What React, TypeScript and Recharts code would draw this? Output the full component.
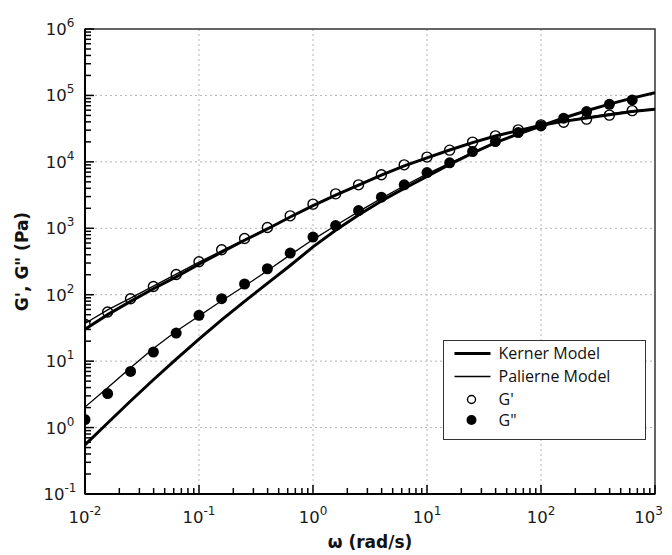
import {
  ScatterChart,
  Scatter,
  XAxis,
  YAxis,
  CartesianGrid,
  ReferenceArea,
  Legend,
} from "recharts";

// measured frequencies (rad/s), 5 points per decade
const omega = [
  0.01, 0.0158, 0.0251, 0.0398, 0.0631, 0.1, 0.158, 0.251, 0.398, 0.631, 1,
  1.58, 2.51, 3.98, 6.31, 10, 15.8, 25.1, 39.8, 63.1, 100, 158, 251, 398, 631,
];
// storage modulus G' (Pa), open circles
const gPrime = [
  36, 55, 87, 133, 202, 313, 475, 703, 1030, 1540, 2310, 3300, 4510, 6380,
  9020, 11800, 15000, 19800, 24600, 30300, 36000, 39500, 44000, 50500, 59000,
];
// loss modulus G'' (Pa), filled circles
const gDouble = [
  1.32, 3.25, 7.0, 13.7, 26.5, 48.9, 87, 145, 246, 424, 738, 1100, 1850, 2940,
  4510, 6900, 9660, 14300, 20200, 27600, 34800, 45400, 57100, 73600, 85500,
];

// model curves
const modelOmega = [
  0.01, 0.0158, 0.0251, 0.0398, 0.0631, 0.1, 0.158, 0.251, 0.398, 0.631, 1,
  1.58, 2.51, 3.98, 6.31, 10, 15.8, 25.1, 39.8, 63.1, 100, 158, 251, 398, 631,
  1000,
];
const kernerGp = [
  30.2, 50.1, 79.4, 123, 186, 288, 437, 661, 977, 1480, 2190, 3160, 4470, 6310,
  8710, 11500, 15100, 19500, 24500, 29500, 35500, 40700, 45700, 51300, 57500,
  61700,
];
const kernerGpp = [
  0.55, 1.17, 2.51, 5.25, 10.7, 21.4, 41.7, 79.4, 148, 275, 525, 933, 1580,
  2570, 3980, 6030, 9120, 13500, 19500, 26300, 34700, 45700, 58900, 74100,
  91200, 110000,
];
const palierneGp = [
  37, 59, 89, 135, 204, 309, 457, 676, 1000, 1480, 2190, 3160, 4470, 6310,
  8710, 11500, 15100, 19500, 24500, 29500, 35500, 41200, 46800, 52500, 58500,
  62500,
];
const palierneGpp = [
  2.04, 3.98, 7.94, 15.5, 28.2, 47.9, 81.3, 135, 229, 398, 676, 1100, 1780,
  2820, 4370, 6610, 9550, 13800, 19500, 26300, 34700, 45700, 58900, 74100,
  91200, 110000,
];

const xDecades = [0.01, 0.1, 1, 10, 100, 1000];
const yDecades = [0.1, 1, 10, 100, 1000, 10000, 100000, 1000000];
const minorSteps = [2, 3, 4, 5, 6, 7, 8, 9];

const withMinors = (decades: number[]) => {
  const out: number[] = [];
  decades.forEach((d, i) => {
    out.push(d);
    if (i < decades.length - 1) minorSteps.forEach((m) => out.push(d * m));
  });
  return out;
};
const xTicks = withMinors(xDecades);
const yTicks = withMinors(yDecades);

const toPoints = (xs: number[], ys: number[]) =>
  xs.map((x, i) => ({ x, y: ys[i] }));

const legendItems = [
  { label: "Kerner Model", kind: "thick" },
  { label: "Palierne Model", kind: "thin" },
  { label: "G'", kind: "open" },
  { label: 'G"', kind: "filled" },
];

const FONT = "DejaVu Sans, Verdana, sans-serif";

const exponentOf = (v: number) => Math.round(Math.log10(v));
const isDecade = (v: number) =>
  Math.abs(Math.log10(v) - Math.round(Math.log10(v))) < 1e-9;

const XTick = (props: any) => {
  const { x, y, payload } = props;
  const v = payload.value;
  const major = isDecade(v);
  // the last label is pulled inside so it is not cut by the page edge
  const last = v === xDecades[xDecades.length - 1];
  return (
    <g>
      <line
        x1={x}
        x2={x}
        y1={y}
        y2={y - (major ? 9 : 6)}
        stroke="#000"
        strokeWidth={1.5}
      />
      {major && (
        <text
          x={last ? x + 8 : x}
          y={y + 29}
          textAnchor={last ? "end" : "middle"}
          fontFamily={FONT}
          fontSize={16.5}
          fill="#1a1a1a"
        >
          10
          <tspan dy={-8} fontSize={12}>
            {exponentOf(v)}
          </tspan>
        </text>
      )}
    </g>
  );
};

const YTick = (props: any) => {
  const { x, y, payload } = props;
  const v = payload.value;
  const major = isDecade(v);
  return (
    <g>
      <line
        x1={x}
        x2={x + (major ? 9 : 6)}
        y1={y}
        y2={y}
        stroke="#000"
        strokeWidth={1.5}
      />
      {major && (
        <text
          x={x - 25}
          y={y + 6}
          textAnchor="middle"
          fontFamily={FONT}
          fontSize={16.5}
          fill="#1a1a1a"
        >
          10
          <tspan dy={-8} fontSize={12}>
            {exponentOf(v)}
          </tspan>
        </text>
      )}
    </g>
  );
};

const XTitle = (props: any) => {
  const vb = props.viewBox;
  return (
    <text
      x={vb.x + vb.width / 2}
      y={vb.y + 54}
      textAnchor="middle"
      fontFamily={FONT}
      fontWeight="bold"
      fontSize={17}
      fill="#111"
    >
      ω (rad/s)
    </text>
  );
};

const YTitle = (props: any) => {
  const vb = props.viewBox;
  const cx = vb.x + 13;
  const cy = vb.y + vb.height / 2;
  return (
    <text
      x={cx}
      y={cy}
      transform={`rotate(-90, ${cx}, ${cy})`}
      textAnchor="middle"
      fontFamily={FONT}
      fontWeight="bold"
      fontSize={17}
      fill="#111"
    >
      G', G" (Pa)
    </text>
  );
};

const OpenDot = (props: any) => (
  <circle
    cx={props.cx}
    cy={props.cy}
    r={5}
    fill="none"
    stroke="#000"
    strokeWidth={1.4}
  />
);
const FilledDot = (props: any) => (
  <circle cx={props.cx} cy={props.cy} r={5.5} fill="#000" />
);
const NoDot = () => <g />;

const rowY = [12.5, 35.5, 58.5, 79];

const renderLegend = () => (
  <div
    style={{
      width: 203,
      height: 100,
      boxSizing: "border-box",
      border: "1.5px solid #333",
      background: "#fff",
    }}
  >
    <svg width={200} height={97}>
      {legendItems.map((item, i) => {
        const cy = rowY[i];
        return (
          <g key={item.label}>
            {item.kind === "thick" && (
              <line x1={10.5} x2={46.5} y1={cy} y2={cy} stroke="#000" strokeWidth={3} />
            )}
            {item.kind === "thin" && (
              <line x1={10.5} x2={46.5} y1={cy} y2={cy} stroke="#000" strokeWidth={1.3} />
            )}
            {item.kind === "open" && (
              <circle cx={27.5} cy={cy} r={4} fill="none" stroke="#000" strokeWidth={1.4} />
            )}
            {item.kind === "filled" && <circle cx={27.5} cy={cy} r={5} fill="#000" />}
            <text
              x={54.5}
              y={cy + 5.5}
              fontFamily="Open Sans, sans-serif"
              fontSize={16}
              fill="#111"
            >
              {item.label}
            </text>
          </g>
        );
      })}
    </svg>
  </div>
);

export default function App() {
  return (
    <ScatterChart
      width={656}
      height={547}
      margin={{ top: 21, right: 9, bottom: 0, left: 7 }}
    >
      <CartesianGrid
        stroke="#b5b5b5"
        strokeDasharray="2 3"
        verticalValues={xDecades.slice(1, -1)}
        horizontalValues={yDecades.slice(1, -1)}
      />
      <ReferenceArea
        x1={0.01}
        x2={1000}
        y1={0.1}
        y2={1000000}
        fill="none"
        fillOpacity={0}
        stroke="#333"
        strokeWidth={1.5}
      />
      <XAxis
        dataKey="x"
        type="number"
        scale="log"
        domain={[0.01, 1000]}
        allowDataOverflow
        ticks={xTicks}
        interval={0}
        tickSize={0}
        tickMargin={0}
        tickLine={false}
        tick={<XTick />}
        height={61}
        axisLine={{ stroke: "#000", strokeWidth: 2 }}
        label={(p: any) => <XTitle {...p} />}
      />
      <YAxis
        dataKey="y"
        type="number"
        scale="log"
        domain={[0.1, 1000000]}
        allowDataOverflow
        ticks={yTicks}
        interval={0}
        tickSize={0}
        tickMargin={0}
        tickLine={false}
        tick={<YTick />}
        width={70}
        axisLine={{ stroke: "#000", strokeWidth: 2 }}
        label={(p: any) => <YTitle {...p} />}
      />
      <Scatter
        data={toPoints(omega, gPrime)}
        shape={<OpenDot />}
        isAnimationActive={false}
      />
      <Scatter
        data={toPoints(omega, gDouble)}
        shape={<FilledDot />}
        isAnimationActive={false}
      />
      <Scatter
        data={toPoints(modelOmega, palierneGp)}
        line={{ stroke: "#000", strokeWidth: 1.3 }}
        lineType="joint"
        shape={<NoDot />}
        isAnimationActive={false}
      />
      <Scatter
        data={toPoints(modelOmega, palierneGpp)}
        line={{ stroke: "#000", strokeWidth: 1.3 }}
        lineType="joint"
        shape={<NoDot />}
        isAnimationActive={false}
      />
      <Scatter
        data={toPoints(modelOmega, kernerGp)}
        line={{ stroke: "#000", strokeWidth: 3 }}
        lineType="joint"
        shape={<NoDot />}
        isAnimationActive={false}
      />
      <Scatter
        data={toPoints(modelOmega, kernerGpp)}
        line={{ stroke: "#000", strokeWidth: 3 }}
        lineType="joint"
        shape={<NoDot />}
        isAnimationActive={false}
      />
      <Legend
        layout="vertical"
        align="center"
        verticalAlign="middle"
        content={renderLegend}
        wrapperStyle={{ left: 435, top: 332, width: 203, height: 100 }}
      />
    </ScatterChart>
  );
}
